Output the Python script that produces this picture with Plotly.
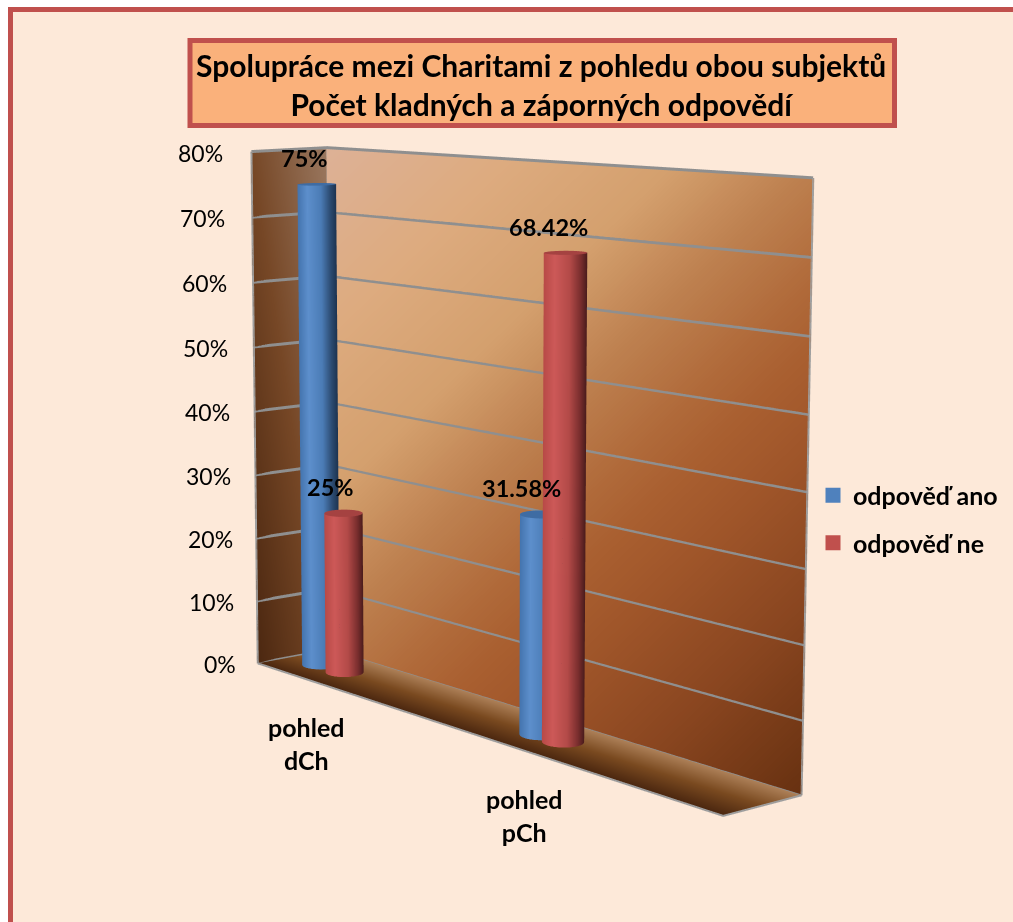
import numpy as np
import plotly.graph_objects as go

categories = ["pohled<br>dCh", "pohled<br>pCh"]
series_names = ["odpověď ano", "odpověď ne"]
ano = [75, 31.58]
ne = [25, 68.42]
ano_labels = ["75%", "31.58%"]
ne_labels = ["25%", "68.42%"]
ticks = [0, 10, 20, 30, 40, 50, 60, 70, 80]

# bar slots on the floor (0..1 across, 0..1 in depth)
slot_ano = [0.069, 0.577]
slot_ne = [0.129, 0.624]
slot_depth = 0.5
rx, ry = 0.029, 0.205
label_dx_ano = [-12, -20]
label_dx_ne = [-13, -17]
cat_dx = [22, 22]

W, H = 1013, 922
F = (H / 2) / np.tan(np.pi / 8)
cx, cy = W / 2, H / 2
# view calibration of the pictured box (a general pinhole view)
P = np.array([[235.37236, 57.16022, -9.68247, 185.80013],
              [-3.02080, -0.68834, -372.05894, 478.23291],
              [-0.13851, 0.01426, -0.02046, 0.72095]])

def hom(m):
    m = np.asarray(m, float)
    return np.concatenate([m, np.ones(m.shape[:-1] + (1,))], axis=-1)

def screen(m):
    h = hom(m) @ P.T
    return h[..., :2] / h[..., 2:3]

s = 2.5 / (P[2] @ np.array([.5, .5, .5, 1]))
Lc = np.array([s * (P[0] - cx * P[2]) / F, s * (cy * P[2] - P[1]) / F, -s * P[2]])
n_vec = np.cross(Lc[:, 0], Lc[:, 1]); n_vec /= np.linalg.norm(n_vec)
if n_vec @ Lc[:, 2] < 0:
    n_vec = -n_vec
kz = n_vec @ Lc[:, 2]
xw = Lc[:, 0] / np.linalg.norm(Lc[:, 0])
yw = np.cross(n_vec, xw)
B = np.array([xw, yw, n_vec])
t0 = -B @ (Lc @ np.array([.5, .5, .5, 1]))
forward = B @ np.array([0, 0, -1.0])
eye = t0
center = t0 + forward * np.linalg.norm(t0)
up = B @ np.array([0, 1.0, 0])

def world(mx, my, zpct):
    m = np.stack(np.broadcast_arrays(mx, my, np.asarray(zpct, float) / 80), axis=-1)
    wv = (hom(m) @ Lc.T) @ B.T + t0
    return wv[..., 0], wv[..., 1], np.broadcast_to(np.asarray(zpct, float), wv[..., 0].shape)

corners = np.array(world(np.array([0, 0, 1, 1, 0, 0, 1, 1.]), np.array([0, 1, 0, 1, 0, 1, 0, 1.]), np.array([0, 0, 0, 0, 80, 80, 80, 80.])))
R = 1.3 * np.abs(corners[:2]).max()

LIT = dict(ambient=1, diffuse=0, specular=0, roughness=1, fresnel=0)
fig = go.Figure()

def surf(mx, my, zp, c, cs):
    a, b, cc = world(mx, my, zp)
    fig.add_trace(go.Surface(x=a, y=b, z=cc, surfacecolor=c, colorscale=cs, cmin=0, cmax=1, showscale=False,
                             lighting=LIT, hoverinfo="skip", showlegend=False))

n = 60
a = np.linspace(0, 1, n)
A1, A2 = np.meshgrid(a, a)
# back wall
S = screen(np.stack([A1, np.ones_like(A1), A2], -1))
surf(A1, np.ones_like(A1), A2 * 80, .42 * (S[..., 0] - 328) / 485 + .58 * (S[..., 1] - 148) / 646,
     [[0, "#DDB196"], [.164, "#DDAB7F"], [.314, "#D4A06E"], [.43, "#BE8150"], [.536, "#B06A3A"], [.6, "#A95F30"],
      [.68, "#A0562A"], [.82, "#8A4620"], [1, "#663010"]])
# left wall
S = screen(np.stack([np.zeros_like(A1), A1, A2], -1))
surf(np.zeros_like(A1), A1, A2 * 80, .5 * (1 - (S[..., 0] - 250) / 78) + .5 * (S[..., 1] - 148) / 515,
     [[0, "#9A7860"], [.5, "#764726"], [1, "#47240E"]])
# floor
surf(A1, A2, np.zeros_like(A1), 1 - A2, [[0, "#AD8058"], [.5, "#7A4A20"], [1, "#4A260F"]])

BLUE = [[0, "#4474AE"], [.25, "#5D8FCC"], [.6, "#4B7CB6"], [.85, "#2B4A70"], [1, "#1D3350"]]
RED = [[0, "#B84A47"], [.25, "#CD5958"], [.6, "#B34A48"], [.85, "#7A2E2E"], [1, "#4A1C1C"]]
CAPB, CAPR = "#3F6CA3", "#A54241"

def cyl(xc, yc, val, cs, cap):
    th = np.linspace(0, 2 * np.pi, 145)
    T, Z = np.meshgrid(th, np.linspace(0, val, 2))
    mx = xc + rx * np.cos(T)
    my = yc + ry * np.sin(T)
    Sc = screen(np.stack([mx, my, Z / 80], -1))[..., 0]
    lo, hi = Sc.min(axis=1, keepdims=True), Sc.max(axis=1, keepdims=True)
    surf(mx, my, Z, (Sc - lo) / (hi - lo), cs)
    T2, R2 = np.meshgrid(th, np.array([0, 1.0]))
    surf(xc + rx * R2 * np.cos(T2), yc + ry * R2 * np.sin(T2), val + 0 * R2, 0 * R2, [[0, cap], [1, cap]])

for i in range(2):
    cyl(slot_ano[i], slot_depth, ano[i], BLUE, CAPB)
    cyl(slot_ne[i], slot_depth, ne[i], RED, CAPR)

def line(mx, my, zp, col="#8F8F8F", w=6):
    a, b, c = world(np.array(mx, float), np.array(my, float), np.array(zp, float))
    fig.add_trace(go.Scatter3d(x=a, y=b, z=c, mode="lines", line=dict(color=col, width=w), hoverinfo="skip", showlegend=False))

for t in ticks:
    line([0, .002, 1], [0, .998, .998], [t, t, t])
line([0, 0], [0, 0], [0, 80], "#A0A0A0", 4)
line([0, 0], [1, 1], [0, 80], "#A0A0A0", 4)
line([1, 1], [1, 1], [0, 80], "#A0A0A0", 4)
line([0, 1, 1], [0, 0, 1], [0, 0, 0], "#A0A0A0", 4)

for nm, col in zip(series_names, ["#4F81BD", "#C0504D"]):
    fig.add_trace(go.Scatter3d(x=[None], y=[None], z=[None], mode="markers", name=nm, legendgroup=nm,
                               marker=dict(symbol="square", size=15, color=col), hoverinfo="skip"))

def sa(mx, my, zp, text, font, **kw):
    a, b, c = world(np.array(float(mx)), np.array(float(my)), np.array(float(zp)))
    d = dict(x=float(a), y=float(b), z=float(c), text=text, showarrow=False, font=font)
    d.update(kw)
    return d

TF = dict(family="Lato", size=23, color="#000")
BF = dict(family="Lato", size=23.5, color="#000", weight="bold")
ann = []
for t in ticks:
    ann.append(sa(0, 0, t, f"{t}%", TF, xanchor="right", xshift=-26 + 6 * (1 - t / 80), yshift=-1))
for i in range(2):
    ann.append(sa(slot_ano[i], slot_depth, ano[i], ano_labels[i], BF, xshift=label_dx_ano[i], yshift=26))
    ann.append(sa(slot_ne[i], slot_depth, ne[i], ne_labels[i], BF, xshift=label_dx_ne[i], yshift=26))
    ann.append(sa(slot_ano[i], 0, 0, categories[i], dict(BF, size=25), xshift=cat_dx[i], yshift=-72))

axis = dict(visible=False, showgrid=False, zeroline=False, showbackground=False, showspikes=False)
fig.update_layout(
    width=W, height=H, margin=dict(l=0, r=0, t=0, b=0), paper_bgcolor="#FFFFFF",
    showlegend=True,
    legend=dict(x=813/W, y=1-472.5/H, xanchor="left", yanchor="top", bgcolor="rgba(0,0,0,0)", tracegroupgap=12,
                font=dict(family="Lato", size=25, color="#000", weight="bold")),
    scene=dict(
        domain=dict(x=[0, 1], y=[0, 1]),
        xaxis=dict(range=[-R, R], **axis), yaxis=dict(range=[-R, R], **axis), zaxis=dict(range=[0, 80], **axis),
        aspectmode="manual", aspectratio=dict(x=float(2 * R), y=float(2 * R), z=float(kz)),
        camera=dict(eye=dict(x=float(eye[0]), y=float(eye[1]), z=float(eye[2])),
                    center=dict(x=float(center[0]), y=float(center[1]), z=float(center[2])),
                    up=dict(x=float(up[0]), y=float(up[1]), z=float(up[2]))),
        annotations=ann, bgcolor="rgba(0,0,0,0)",
    ),
    shapes=[
        dict(type="rect", xref="paper", yref="paper", x0=10.5/W, x1=1.1, y0=-0.1, y1=1-9.5/H, fillcolor="#FDE9D9",
             line=dict(color="#C0504D", width=5), layer="below"),
        dict(type="rect", xref="paper", yref="paper", x0=190/W, x1=894.5/W, y0=1-125.5/H, y1=1-40.5/H, fillcolor="#FAB17B",
             line=dict(color="#C0504D", width=5), layer="below"),
    ],
    annotations=[
        dict(xref="paper", yref="paper", x=541/W, y=1-84/H, xanchor="center", yanchor="middle", showarrow=False, align="center",
             text="Spolupráce mezi Charitami z pohledu obou subjektů<br>Počet kladných a záporných odpovědí",
             font=dict(family="Lato", size=30, color="#000", weight="bold")),
    ],
)
fig.write_html("out.html", post_script="document.body.style.margin='0';", config=dict(displayModeBar=False))
